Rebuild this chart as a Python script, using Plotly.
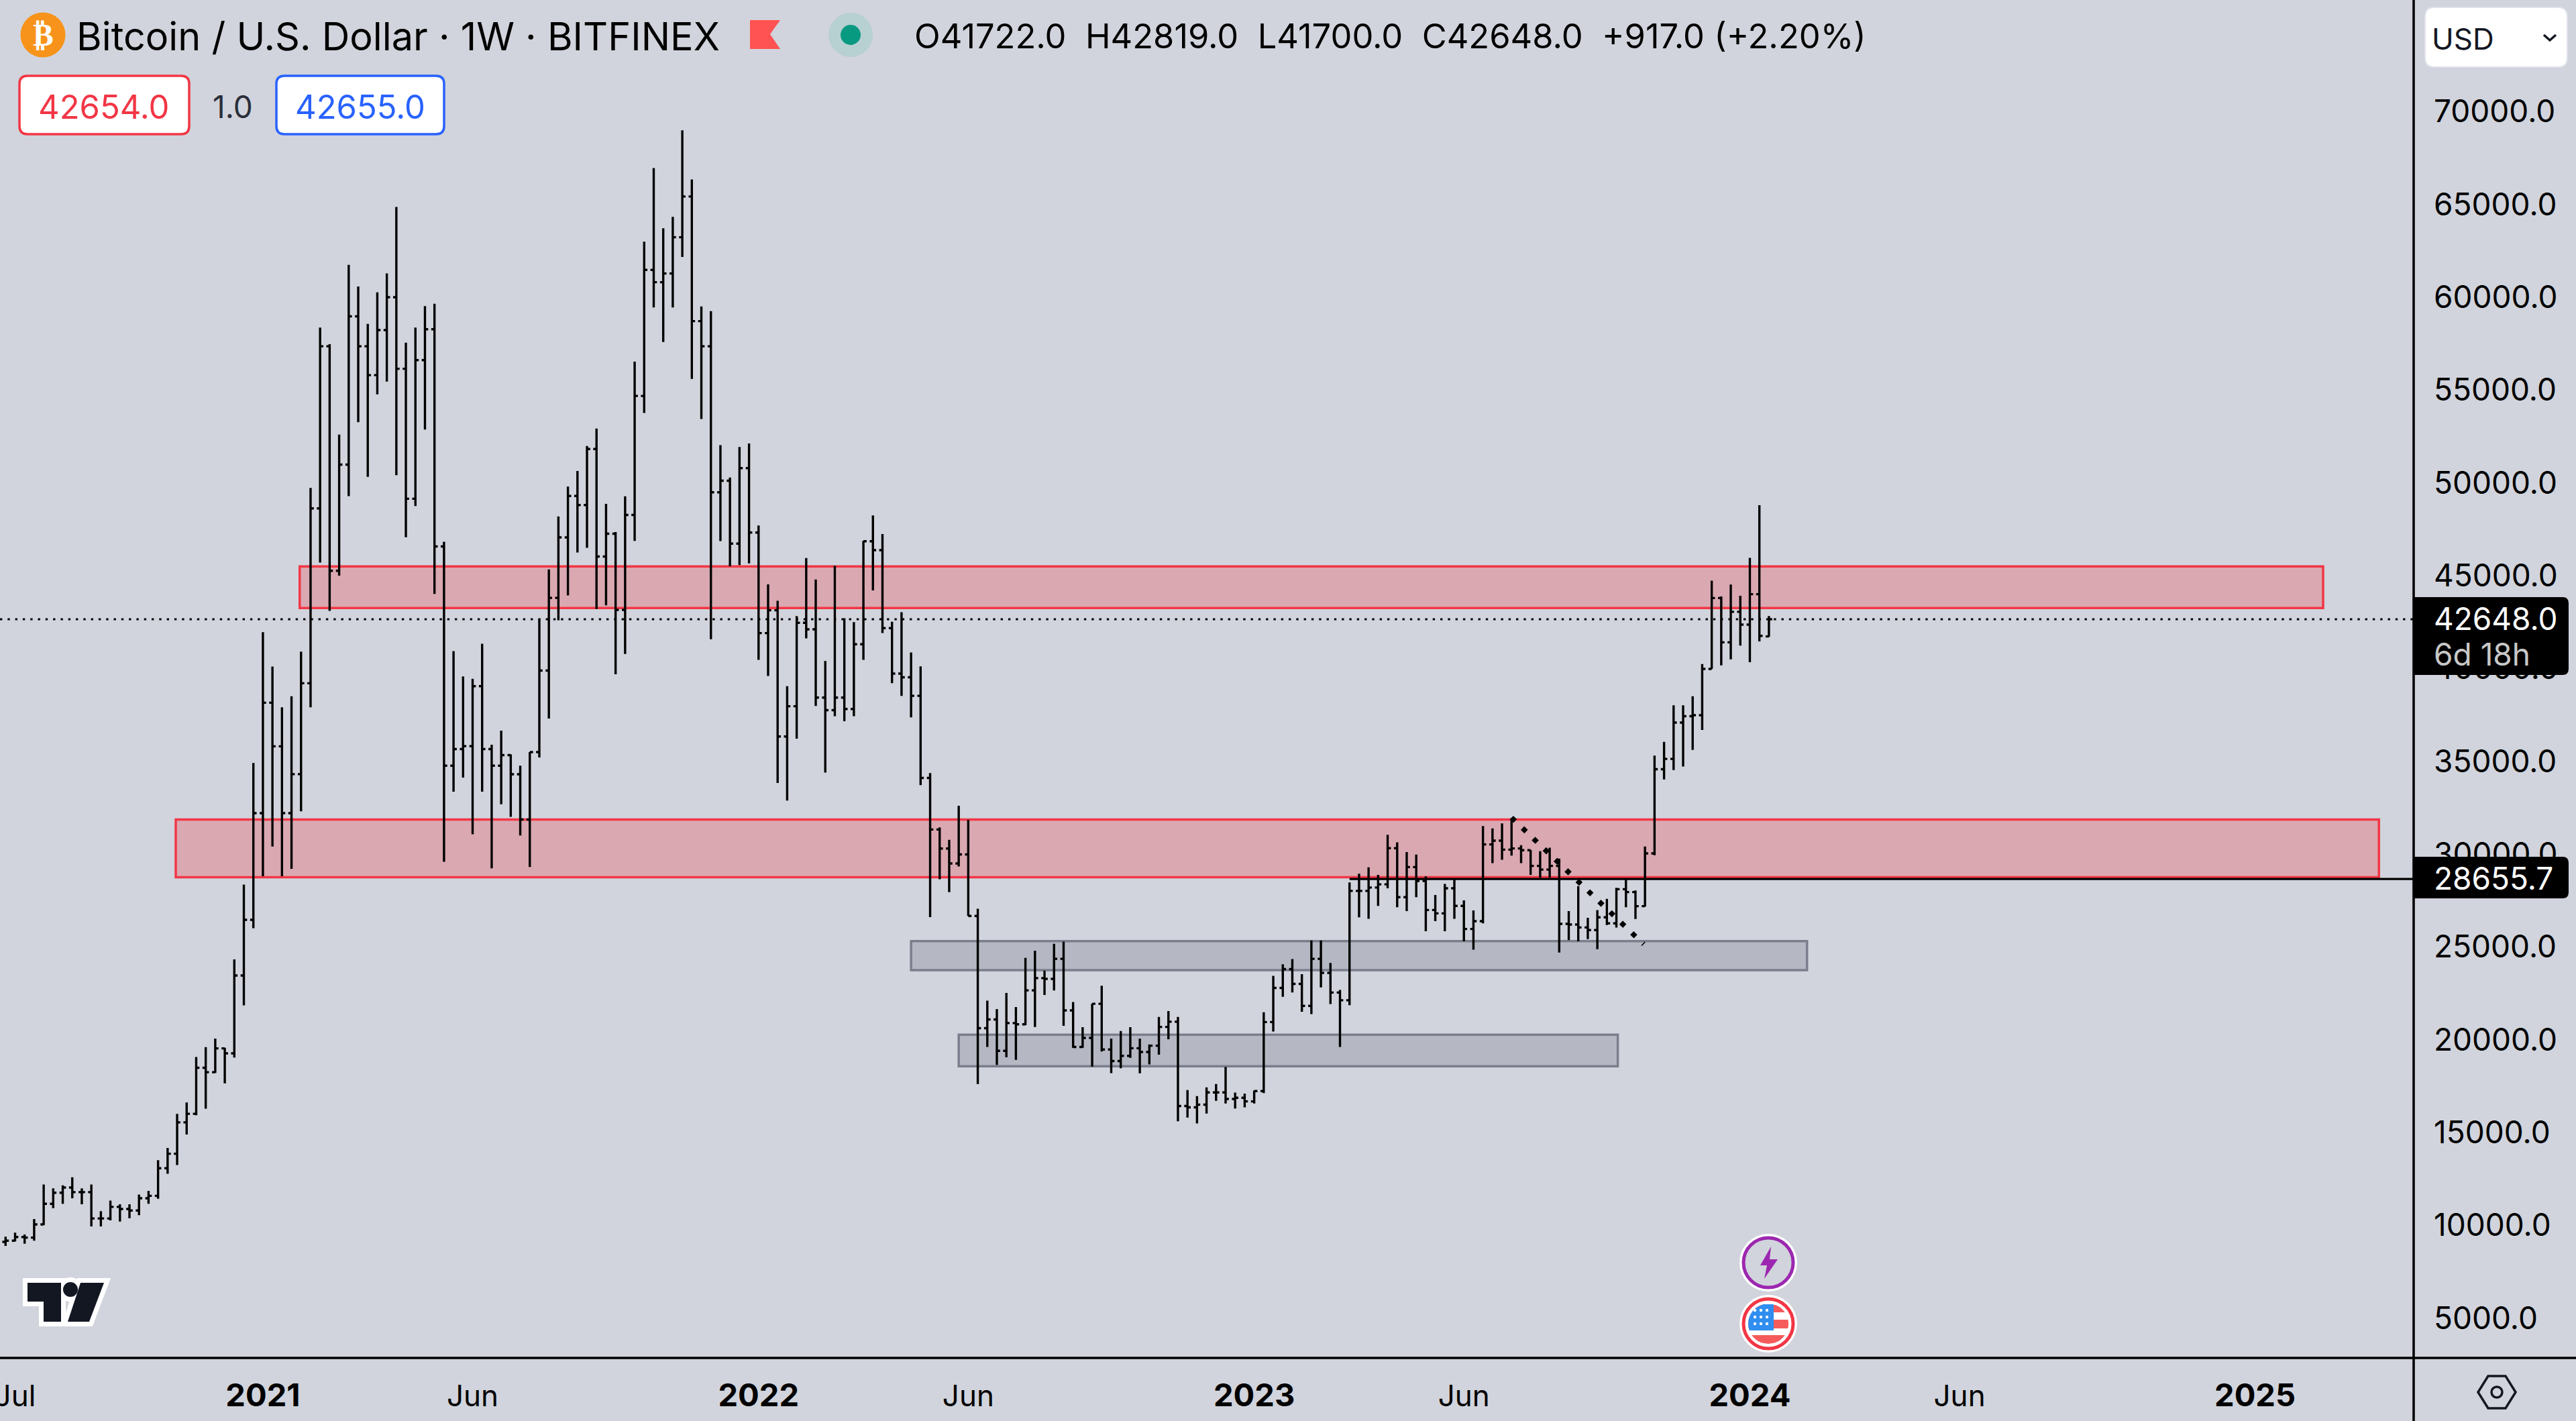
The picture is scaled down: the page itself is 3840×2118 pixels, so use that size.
import pandas as pd
import plotly.graph_objects as go

# weekly bars (first bar 2020-06-29, last 2024-01-15)
dates = pd.date_range("2020-06-29", periods=186, freq="7D")

opens = [9100, 9165, 9360, 9330, 10040, 11150, 11750, 12030, 11780, 11780,
         10360, 10360, 10985, 10870, 10790, 11450, 11580, 13070, 13850, 15540,
         16000, 18480, 18240, 19525, 19260, 23450, 26450, 32200, 38150, 35800,
         32200, 34300, 39200, 48620, 57355, 45260, 50980, 58970, 57355, 55800,
         58230, 60000, 56145, 49140, 56610, 58275, 46570, 34760, 35650, 35810,
         39040, 35650, 34760, 35327, 34295, 31857, 35490, 39880, 43800, 47060,
         49290, 48800, 51820, 46030, 47255, 43155, 48270, 54680, 61470, 60810,
         61280, 63230, 65425, 58710, 57355, 49490, 50110, 46725, 50790, 47320,
         41900, 43130, 36330, 37960, 42460, 42105, 38425, 37750, 38425, 37810,
         41300, 46850, 46370, 42170, 39720, 39520, 38520, 34100, 31320, 30295,
         29490, 29975, 26660, 20615, 21085, 19395, 20890, 20820, 22650, 23310,
         23270, 24350, 21570, 19600, 20090, 21930, 19465, 18840, 19120, 19535,
         19330, 19670, 20680, 20960, 16420, 16350, 16490, 17155, 17155, 16800,
         16865, 16670, 17225, 20945, 22785, 23795, 23000, 21815, 24350, 23590,
         22535, 22120, 28010, 28010, 28190, 28365, 30310, 27670, 29296, 28550,
         26980, 26800, 28150, 27200, 25958, 26380, 30513, 30718, 30236, 30296,
         30200, 29356, 29160, 29356, 26235, 26200, 26040, 25900, 26585, 26260,
         28100, 27947, 27187, 30030, 34570, 35125, 37080, 37425, 37480, 39970,
         43790, 41405, 43050, 42356, 44000, 41722]
highs = [9380, 9600, 9500, 10325, 12190, 11980, 12145, 12575, 11980, 12190,
         10750, 11320, 11120, 11120, 11650, 11850, 13500, 14160, 16000, 16610,
         19060, 19590, 20050, 19560, 24320, 28350, 34900, 41950, 40100, 37900,
         38500, 40900, 49720, 58360, 57470, 52600, 61745, 60580, 58565, 60260,
         61280, 64860, 57550, 58360, 59520, 59650, 46820, 40930, 39570, 39440,
         41330, 35890, 36650, 35360, 34760, 35490, 42640, 45335, 48190, 49800,
         50640, 51980, 52920, 48865, 47350, 49270, 56530, 62990, 66960, 63715,
         64330, 68990, 66345, 59500, 59245, 52030, 50286, 51930, 52120, 47700,
         44527, 43640, 39040, 42815, 45950, 44785, 40395, 45530, 42700, 42490,
         46870, 48240, 47240, 42510, 43025, 40860, 40105, 34360, 31430, 30765,
         32600, 31840, 27045, 22095, 21640, 22510, 21750, 24400, 24790, 23710,
         25160, 25275, 22020, 20670, 21930, 22900, 20050, 20460, 20670, 20050,
         19740, 21220, 21540, 21220, 17280, 16950, 17420, 17600, 18530, 17140,
         17090, 17250, 21470, 23435, 24060, 24335, 23520, 25340, 25340, 24130,
         22675, 28470, 28940, 29280, 28875, 31030, 30630, 30100, 29970, 28790,
         27790, 28390, 28630, 27500, 26960, 31500, 31380, 31645, 31920, 30477,
         30210, 30150, 30340, 29750, 26920, 28270, 26560, 26980, 27585, 28175,
         28630, 28030, 30400, 35300, 36040, 38015, 38015, 38500, 40230, 44725,
         43880, 44520, 43910, 45955, 48790, 42819]
lows = [8880, 9130, 9000, 9165, 10000, 10920, 11150, 11450, 11120, 9930,
        9930, 10260, 10190, 10370, 10540, 11150, 11420, 12770, 13240, 14880,
        15920, 16280, 18200, 17640, 19030, 21840, 26000, 28800, 30400, 28800,
        29200, 32300, 37900, 45700, 43100, 45000, 49280, 53270, 50320, 54770,
        55450, 50415, 47070, 48750, 52870, 44010, 29580, 33360, 34120, 31065,
        33360, 29225, 32680, 32000, 31000, 29300, 35200, 37300, 42590, 43930,
        46245, 46500, 43200, 43400, 39680, 40780, 46865, 53760, 59450, 57590,
        59450, 62170, 55600, 53440, 41570, 46860, 45500, 45570, 45660, 40460,
        39590, 33830, 32875, 36215, 41620, 37975, 34390, 37425, 37150, 37425,
        40460, 44200, 41910, 39200, 38520, 37360, 33710, 26600, 28635, 27945,
        29325, 26660, 17600, 19600, 18635, 19050, 18910, 20780, 20680, 22400,
        22650, 20740, 19560, 19560, 18540, 19355, 18190, 18455, 19010, 18180,
        18660, 19190, 20020, 15600, 15800, 15480, 16010, 16700, 16560, 16285,
        16350, 16560, 17115, 20435, 22300, 22535, 21500, 21375, 22810, 21915,
        19600, 21850, 26590, 26510, 27200, 28150, 27130, 26925, 27670, 25837,
        26380, 25837, 26510, 25295, 24840, 26260, 29510, 29690, 29910, 29510,
        28875, 28730, 28730, 24690, 25355, 25295, 25415, 24875, 26175, 26040,
        27127, 26500, 27170, 29930, 34020, 34520, 34710, 35610, 36680, 39970,
        40160, 40490, 41230, 40330, 41456, 41700]
closes = [9165, 9360, 9330, 10040, 11150, 11750, 12030, 11780, 11780, 10360,
          10360, 10985, 10870, 10790, 11450, 11580, 13070, 13850, 15540, 16000,
          18480, 18240, 19525, 19260, 23450, 26450, 32200, 38150, 35800, 32200,
          34300, 39200, 48620, 57355, 45260, 50980, 58970, 57355, 55800, 58230,
          60000, 56145, 49140, 56610, 58275, 46570, 34760, 35650, 35810, 39040,
          35650, 34760, 35327, 34295, 31857, 35490, 39880, 43800, 47060, 49290,
          48800, 51820, 46030, 47255, 43155, 48270, 54680, 61470, 60810, 61280,
          63230, 65425, 58710, 57355, 49490, 50110, 46725, 50790, 47320, 41900,
          43130, 36330, 37960, 42460, 42105, 38425, 37750, 38425, 37810, 41300,
          46850, 46370, 42170, 39720, 39520, 38520, 34100, 31320, 30295, 29490,
          29975, 26660, 20615, 21085, 19395, 20890, 20820, 22650, 23310, 23270,
          24350, 21570, 19600, 20090, 21930, 19465, 18840, 19120, 19535, 19330,
          19670, 20680, 20960, 16420, 16350, 16490, 17155, 17155, 16800, 16865,
          16670, 17225, 20945, 22785, 23795, 23000, 21815, 24350, 23590, 22535,
          22120, 28010, 28010, 28190, 28365, 30310, 27670, 29296, 28550, 26980,
          26800, 28150, 27200, 25958, 26380, 30513, 30718, 30236, 30296, 30200,
          29356, 29160, 29356, 26235, 26200, 26040, 25900, 26585, 26260, 28100,
          27947, 27187, 30030, 34570, 35125, 37080, 37425, 37480, 39970, 43790,
          41405, 43050, 42356, 44000, 41750, 42648]

x_ticks = ["2020-07-06", "2021-01-04", "2021-06-07", "2022-01-03", "2022-06-06",
           "2023-01-02", "2023-06-05", "2024-01-01", "2024-06-03", "2025-01-06"]
year_fmt = '<span style="font-size:47px"><b>%s</b></span>'
x_labels = ["Jul", year_fmt % "2021", "Jun", year_fmt % "2022", "Jun",
            year_fmt % "2023", "Jun", year_fmt % "2024", "Jun", year_fmt % "2025"]
y_ticks = [5000, 10000, 15000, 20000, 25000, 30000, 35000,
           40000, 45000, 50000, 55000, 60000, 65000, 70000]

last_price = 42648.0
level_price = 28655.7
trend_x = ["2023-07-10", "2023-10-15"]
trend_y = [31960, 25138]

BG = "#d1d4dc"
RED = "#f23645"
BLUE = "#2962ff"
DARK = "#131722"
FONT = "Inter"
W, H = 3598, 2024


def px(x):
    return x / W


def py(y):
    return 1 - y / H


def poly(points):
    return "M" + " L".join(f"{px(x):.6f},{py(y):.6f}" for x, y in points) + " Z"


def round_rect(x0, y0, x1, y1, r, left=True):
    rl = r if left else 0
    p = lambda x, y: f"{px(x):.6f},{py(y):.6f}"
    return (f"M{p(x0 + rl, y0)} L{p(x1 - r, y0)} Q{p(x1, y0)} {p(x1, y0 + r)} "
            f"L{p(x1, y1 - r)} Q{p(x1, y1)} {p(x1 - r, y1)} L{p(x0 + rl, y1)} "
            f"Q{p(x0, y1)} {p(x0, y1 - rl)} L{p(x0, y0 + rl)} Q{p(x0, y0)} {p(x0 + rl, y0)} Z")


def band(y_cut0, y_cut1, cx, cy, r, x_min=None, x_max=None, steps=8):
    # piece of a disc between two heights, for the little flag icon
    left, right = [], []
    for k in range(steps + 1):
        y = y_cut0 + (y_cut1 - y_cut0) * k / steps
        half = max(r ** 2 - (y - cy) ** 2, 0) ** 0.5
        a, b = cx - half, cx + half
        if x_min is not None:
            a = max(a, x_min)
        if x_max is not None:
            b = min(b, x_max)
        left.append((a, y))
        right.append((b, y))
    return poly(left + right[::-1])


fig = go.Figure()
fig.add_trace(go.Ohlc(
    x=dates, open=opens, high=highs, low=lows, close=closes,
    increasing_line_color="black", decreasing_line_color="black",
    line_width=3.4, tickwidth=0.34, showlegend=False,
))
fig.add_trace(go.Scatter(
    x=trend_x, y=trend_y, mode="lines", showlegend=False,
    line=dict(color="black", width=7.5, dash="7.5px,15.1px"),
))

shapes = []


def box(x0, x1, y0, y1, line, fill):
    shapes.append(dict(type="rect", xref="x", yref="y", x0=x0, x1=x1, y0=y0, y1=y1,
                       line=dict(color=line, width=3.5), fillcolor=fill, layer="below"))


box("2021-01-31", "2025-02-25", 43250, 45490, RED, "rgba(242,54,69,0.28)")
box("2020-11-01", "2025-04-07", 28750, 31860, RED, "rgba(242,54,69,0.28)")
box("2022-04-25", "2024-02-12", 23740, 25300, "#7b7e8c", "rgba(120,123,134,0.31)")
box("2022-05-30", "2023-09-26", 18558, 20262, "#7b7e8c", "rgba(120,123,134,0.31)")

# last price and horizontal level
shapes.append(dict(type="line", xref="paper", yref="y", x0=0, x1=1, y0=last_price, y1=last_price,
                   line=dict(color="black", width=3, dash="3.4px,7.9px"), layer="below"))
shapes.append(dict(type="line", xref="x", yref="y", x0="2023-03-13", x1="2025-05-02",
                   y0=level_price, y1=level_price, line=dict(color="black", width=3.2)))

# pane borders
shapes.append(dict(type="line", xref="paper", yref="paper", x0=1, x1=1, y0=py(0), y1=py(2118),
                   line=dict(color="black", width=3.6)))
shapes.append(dict(type="line", xref="paper", yref="paper", x0=0, x1=px(3840), y0=0, y1=0,
                   line=dict(color="black", width=3.6)))


def paper_shape(**kw):
    shapes.append(dict(xref="paper", yref="paper", **kw))


def circle(cx, cy, r, fill, line=None, width=0):
    paper_shape(type="circle", x0=px(cx - r), x1=px(cx + r), y0=py(cy + r), y1=py(cy - r),
                fillcolor=fill, line=dict(color=line or fill, width=width))


# price labels on the axis
paper_shape(type="path", path=round_rect(3599, 890, 3829, 1006, 9, left=False),
            fillcolor="black", line=dict(width=0))
paper_shape(type="path", path=round_rect(3599, 1277, 3829, 1339, 9, left=False),
            fillcolor="black", line=dict(width=0))

# currency selector
paper_shape(type="path", path=round_rect(3615, 11, 3827, 100, 14),
            fillcolor="white", line=dict(color="#e0e3eb", width=2))
paper_shape(type="path", path="M%.6f,%.6f L%.6f,%.6f L%.6f,%.6f" % (
    px(3792), py(52), px(3801), py(60), px(3810), py(52)),
    line=dict(color=DARK, width=3.5))

# bid / ask buttons
paper_shape(type="path", path=round_rect(29, 113, 282, 200, 12),
            fillcolor="white", line=dict(color=RED, width=3.5))
paper_shape(type="path", path=round_rect(412, 113, 662, 200, 12),
            fillcolor="white", line=dict(color=BLUE, width=3.5))

# header icons
circle(64, 52, 33.5, "#f7931a")
paper_shape(type="path", path=poly([(1118, 30), (1163, 30), (1148, 51), (1163, 73), (1118, 73)]),
            fillcolor="#ff5252", line=dict(width=0))
circle(1268, 52, 33, "#b7d0d2")
circle(1268, 52, 15, "#089981")

# TradingView mark
for path in [poly([(41, 1912), (91, 1912), (91, 1970), (65, 1970), (65, 1940), (41, 1940)]),
             poly([(120, 1912), (155, 1912), (133, 1970), (101, 1970)])]:
    paper_shape(type="path", path=path, fillcolor="white", line=dict(color="white", width=14))
circle(105, 1922, 11, "white", "white", 14)
for path in [poly([(41, 1912), (91, 1912), (91, 1970), (65, 1970), (65, 1940), (41, 1940)]),
             poly([(120, 1912), (155, 1912), (133, 1970), (101, 1970)])]:
    paper_shape(type="path", path=path, fillcolor=DARK, line=dict(width=0))
circle(105, 1922, 11, DARK)

# event markers
circle(2636, 1882, 43, "white")
circle(2636, 1882, 37, BG, "#9c27b0", 5)
paper_shape(type="path", path=poly([(2640, 1858), (2624, 1886), (2634, 1886), (2630, 1906),
                                    (2650, 1877), (2638, 1877)]),
            fillcolor="#9c27b0", line=dict(width=0))
circle(2636, 1973, 43, "white")
circle(2636, 1973, 37, "white", RED, 5)
for y0, y1 in [(1945, 1956), (1967, 1980), (1990, 2003)]:
    paper_shape(type="path", path=band(y0, y1, 2636, 1973, 30), fillcolor="#f65b5b", line=dict(width=0))
paper_shape(type="path", path=band(1944, 1983, 2636, 1973, 30, x_max=2644),
            fillcolor="#2f8ef0", line=dict(width=0))
for sx in [2616, 2625, 2634]:
    for sy in [1953, 1963, 1973]:
        circle(sx, sy, 2.2, "white")

# settings hexagon
paper_shape(type="path", path=poly([(3709, 2051), (3735, 2051), (3750, 2075), (3735, 2099), (3709, 2099), (3694, 2075)]),
            line=dict(color=DARK, width=3.5))
circle(3722, 2075, 8, BG, DARK, 3.5)


def label(x, y, text, size=46, color="black", anchor="left", family=FONT):
    fig.add_annotation(xref="paper", yref="paper", x=px(x), y=py(y), text=text, showarrow=False,
                       xanchor=anchor, yanchor="middle", borderpad=0,
                       font=dict(family=family, size=size, color=color))


label(113, 54, "Bitcoin / U.S. Dollar · 1W · BITFINEX", size=57.6)
label(1362, 54, "O41722.0  H42819.0  L41700.0  C42648.0  +917.0 (+2.20%)", size=50.6)
label(155, 159, "42654.0", size=49, color=RED, anchor="center")
label(347, 159, "1.0", size=46, color="#2a2e39", anchor="center")
label(537, 159, "42655.0", size=49, color=BLUE, anchor="center")
label(3624, 58, "USD", size=44, color=DARK)
label(3627, 922, "42648.0", color="white")
label(3627, 975, "6d 18h", color="#c8c8c8")
label(3627, 1309, "28655.7", color="white")
label(64, 52, "<b>₿</b>", size=46, color="white", anchor="center", family="DejaVu Sans")

fig.update_layout(
    width=3840, height=2118,
    margin=dict(l=0, r=242, t=0, b=94, pad=0),
    paper_bgcolor=BG, plot_bgcolor=BG,
    shapes=shapes,
    showlegend=False,
    font=dict(family=FONT, size=46, color="black"),
    xaxis=dict(
        type="date", range=["2020-06-24 22:00", "2025-05-02 12:00"],
        rangeslider=dict(visible=False),
        showgrid=False, zeroline=False, showline=False, ticks="",
        tickmode="array", tickvals=x_ticks, ticktext=x_labels,
        tickfont=dict(family=FONT, size=44, color="black"), automargin=False,
        ticklabelstandoff=27, ticklabeloverflow="allow",
    ),
    yaxis=dict(
        range=[2846, 76014], side="right",
        showgrid=False, zeroline=False, showline=False, ticks="",
        tickmode="array", tickvals=y_ticks, tickformat=".1f",
        tickfont=dict(family=FONT, size=46, color="black"), automargin=False,
        ticklabelstandoff=29,
    ),
)

fig.write_html("out.html", config={"displayModeBar": False},
               post_script="document.body.style.margin='0';")
